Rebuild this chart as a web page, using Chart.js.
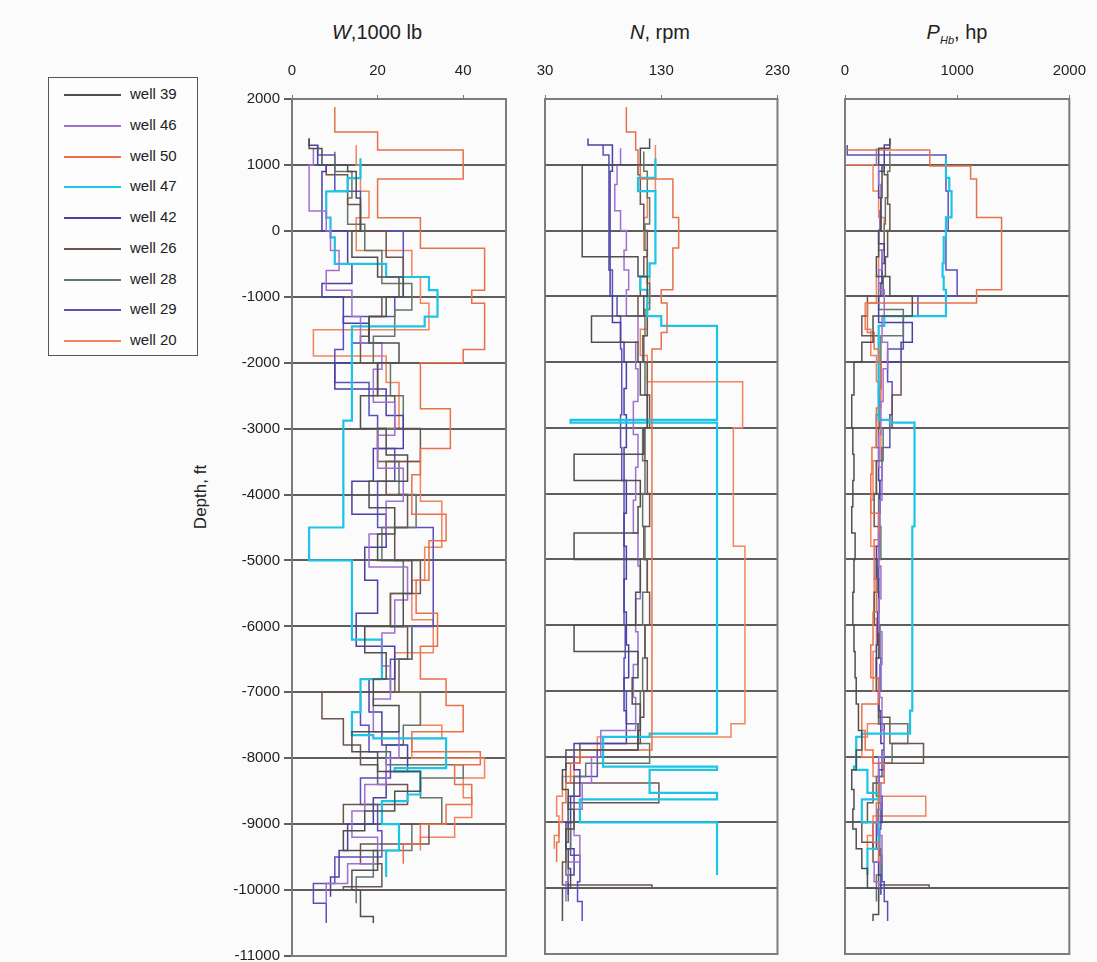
<!DOCTYPE html>
<html>
<head>
<meta charset="utf-8">
<script src="https://cdn.jsdelivr.net/npm/chart.js@4.4.1/dist/chart.umd.min.js"></script>
<style>
  body { margin: 0; background: #fbfbfb; font-family: "Liberation Sans", Arial, sans-serif; color: #222; }
  #wrap { position: relative; width: 1097px; height: 962px; overflow: hidden; }
  canvas { position: absolute; }
  .ttl { position: absolute; top: 21px; font-size: 20px; transform: translateX(-50%); white-space: nowrap; }
  .ttl sub { font-size: 11px; }
  #legend { position: absolute; left: 48px; top: 77px; width: 148px; height: 277px; border: 1px solid #555; background: #fdfdfd; }
  .row { position: absolute; left: 0; width: 148px; height: 20px; font-size: 15px; }
  .row .ln { position: absolute; left: 15px; top: 10px; width: 57px; height: 0; }
  .row .tx { position: absolute; left: 81px; top: 1px; }
  #ylab { position: absolute; left: 201px; top: 497px; transform: translate(-50%, -50%) rotate(-90deg); font-size: 17px; white-space: nowrap; }
</style>
</head>
<body>
<div id="wrap">
  <div class="ttl" style="left:377px"><i>W</i>,1000 lb</div>
  <div class="ttl" style="left:660px"><i>N</i>, rpm</div>
  <div class="ttl" style="left:957px"><i>P</i><sub><i>Hb</i></sub>, hp</div>
  <div id="legend"></div>
  <div id="ylab">Depth, ft</div>
  <canvas id="c1" width="330" height="909" style="left:180px;top:60px"></canvas>
  <canvas id="c2" width="300" height="902" style="left:505px;top:60px"></canvas>
  <canvas id="c3" width="296" height="902" style="left:805px;top:60px"></canvas>
</div>
<script>
// Each well: interval boundaries (ft, top -> bottom) and one value per interval.
const d39 = [1400, 1250, 1000, 900, 500, 0, -400, -700, -1000, -1300, -1700, -2000, -2500, -3000, -3400, -3800, -4200, -4600, -5000, -5500, -6000, -6400, -6800, -7200, -7600, -7900, -8200, -8500, -8800, -9100, -9400, -9700, -10000, -10400, -10500];
const w39 = [4, 7, 13, 15, 16, 14, 20, 26, 22, 18, 25, 20, 16, 22, 27, 18, 24, 20, 28, 26, 17, 22, 19, 25, 14, 20, 30, 24, 17, 12, 20, 14, 16, 19];
const n39 = [120, 112, 62, 62, 62, 62, 110, 118, 115, 70, 110, 112, 118, 115, 55, 112, 110, 55, 112, 108, 55, 110, 105, 112, 110, 48, 45, 50, 55, 48, 50, 52, 45, 45];
const p39 = [400, 300, 350, 330, 320, 300, 280, 400, 600, 250, 150, 80, 60, 70, 80, 70, 60, 90, 80, 70, 80, 90, 100, 120, 150, 100, 60, 80, 70, 100, 150, 200, 300, 250];

const d46 = [1250, 1000, 700, 300, 0, -300, -600, -900, -1300, -1700, -2100, -2600, -3100, -3600, -4100, -4600, -5100, -5600, -6100, -6600, -7100, -7600, -8000, -8400, -8800, -9200, -9600, -9900, -10200];
const w46 = [5, 4, 4, 8, 9, 11, 8, 14, 16, 21, 19, 24, 20, 26, 22, 18, 27, 24, 21, 23, 19, 25, 22, 17, 14, 20, 13, 8];
const n46 = [95, 92, 90, 95, 100, 98, 102, 100, 110, 108, 110, 106, 110, 108, 106, 110, 112, 108, 110, 106, 108, 78, 70, 62, 55, 60, 50, 48];
const p46 = [280, 300, 320, 310, 300, 330, 300, 350, 330, 380, 340, 320, 300, 330, 310, 300, 320, 300, 330, 310, 330, 350, 300, 320, 290, 330, 260, 300];

const d50 = [1880, 1500, 1225, 980, 785, 200, -265, -900, -1100, -1550, -1800, -2000, -2700, -3300, -3700, -4300, -4700, -5300, -5800, -6300, -6800, -7200, -7600, -7900, -8100, -8400, -8700, -9000, -9300, -9600];
const w50 = [10, 20, 40, 40, 20, 30, 45, 42, 45, 45, 40, 30, 37, 30, 28, 36, 32, 29, 34, 30, 36, 40, 28, 44, 38, 42, 36, 30, 26];
const n50 = [100, 108, 110, 112, 140, 145, 140, 130, 135, 130, 122, 122, 122, 122, 122, 122, 122, 122, 122, 122, 122, 122, 122, 60, 52, 48, 45, 42, 40];
const p50 = [0, 0, 756, 1120, 1173, 1396, 1396, 1173, 200, 260, 300, 320, 280, 240, 230, 300, 260, 280, 250, 230, 300, 150, 180, 250, 350, 300, 280, 250, 300];

const d47 = [1100, 800, 600, 200, -100, -500, -700, -900, -1300, -1450, -2880, -2920, -4500, -5000, -6200, -6800, -7300, -7650, -7700, -8150, -8200, -8550, -8650, -9000, -9400, -9800];
const w47 = [16, 13, 8, 9, 10, 22, 32, 34, 31, 14, 12, 12, 4, 14, 21, 16, 14, 19, 36, 24, 30, 27, 21, 25, 22];
const n47 = [125, 110, 125, 125, 125, 120, 112, 118, 130, 178, 52, 178, 178, 178, 178, 178, 178, 120, 80, 178, 120, 178, 60, 178, 178];
const p47 = [900, 930, 950, 900, 880, 870, 880, 900, 350, 300, 400, 620, 600, 600, 600, 600, 580, 150, 100, 80, 200, 300, 150, 300, 200];

const d42 = [1400, 1300, 1000, 900, 500, 0, -200, -500, -800, -1000, -1400, -1700, -2000, -2400, -2800, -3300, -3800, -4300, -4800, -5300, -5800, -6300, -6800, -7300, -7800, -8200, -8600, -9000, -9400, -9800, -10100];
const w42 = [4, 6, 8, 7, 7, 13, 13, 14, 7, 12, 18, 14, 10, 22, 26, 19, 14, 22, 17, 20, 15, 24, 18, 21, 27, 22, 19, 13, 11, 9];
const n42 = [67, 88, 88, 86, 86, 86, 86, 86, 86, 88, 95, 98, 100, 98, 100, 98, 100, 98, 100, 98, 100, 102, 98, 100, 55, 60, 52, 48, 55, 50];
const p42 = [400, 350, 330, 300, 320, 300, 350, 330, 320, 300, 600, 500, 320, 300, 280, 300, 310, 300, 280, 300, 290, 280, 300, 320, 350, 300, 330, 280, 300, 320];

const d26 = [1000, 850, 400, 0, -400, -700, -1000, -1300, -1600, -2000, -2500, -3000, -3500, -4000, -4500, -5000, -5500, -6000, -6500, -7000, -7400, -7800, -8100, -8400, -8700, -9000, -9300, -9600, -9950, -10000];
const w26 = [8, 13, 16, 22, 26, 25, 21, 18, 16, 20, 24, 30, 22, 27, 24, 30, 23, 27, 25, 7, 12, 16, 20, 27, 12, 32, 16, 21, 12];
const n26 = [110, 112, 115, 118, 115, 112, 110, 118, 115, 118, 120, 116, 118, 120, 115, 118, 120, 116, 118, 115, 112, 60, 48, 128, 55, 50, 48, 45, 122];
const p26 = [350, 380, 400, 380, 360, 340, 200, 150, 300, 500, 420, 300, 280, 260, 300, 280, 260, 300, 280, 300, 400, 700, 300, 250, 200, 150, 250, 300, 750];

const d28 = [1200, 900, 500, 100, -300, -800, -1200, -1600, -2000, -2500, -3000, -3500, -4000, -4500, -5000, -5500, -6000, -6500, -7000, -7500, -7800, -8100, -8300, -8600, -9000, -9400, -9800, -10200];
const w28 = [10, 14, 13, 17, 21, 28, 24, 19, 23, 26, 20, 25, 29, 21, 26, 23, 28, 24, 30, 26, 22, 40, 30, 35, 28, 19, 15];
const n28 = [115, 118, 120, 116, 118, 120, 116, 114, 116, 118, 114, 116, 114, 116, 118, 114, 116, 114, 112, 110, 120, 65, 55, 50, 52, 48, 50];
const p28 = [400, 380, 360, 350, 330, 300, 520, 320, 300, 310, 340, 280, 300, 320, 290, 300, 310, 280, 300, 560, 420, 350, 280, 300, 250, 320, 280];

const d29 = [1300, 1150, 600, 0, -600, -1000, -1300, -1800, -2300, -2800, -3300, -3800, -4500, -6000, -6500, -7000, -7500, -7900, -8300, -8700, -9100, -9500, -9900, -10200, -10500];
const w29 = [6, 10, 16, 26, 26, 24, 12, 10, 18, 20, 24, 20, 33, 28, 23, 16, 18, 23, 16, 20, 21, 10, 5, 8];
const n29 = [80, 85, 85, 85, 88, 92, 95, 96, 96, 95, 96, 98, 98, 99, 98, 100, 110, 75, 55, 50, 52, 60, 58, 62];
const p29 = [20, 900, 920, 900, 1000, 650, 520, 380, 420, 400, 330, 310, 300, 310, 320, 300, 350, 330, 300, 320, 310, 330, 350, 380];

const d20 = [1300, 1000, 600, 200, -300, -700, -1100, -1500, -1900, -2300, -3000, -3500, -4100, -4800, -5300, -5900, -6400, -7000, -7500, -7700, -8000, -8300, -8600, -8900, -9200, -9400];
const w20 = [15, 16, 18, 15, 28, 30, 32, 5, 22, 25, 20, 30, 35, 31, 28, 33, 24, 30, 35, 28, 45, 40, 42, 38, 30];
const n20 = [125, 125, 118, 115, 118, 120, 118, 112, 118, 200, 192, 192, 192, 202, 202, 202, 202, 202, 190, 75, 55, 45, 40, 42, 38];
const p20 = [0, 250, 300, 350, 300, 280, 180, 230, 280, 300, 320, 250, 230, 300, 260, 280, 250, 300, 200, 150, 250, 300, 720, 250, 200];

const wells = [
  { name: "well 39", color: "#4f4f4f", width: 1.5, depth: d39, w: w39, n: n39, p: p39 },
  { name: "well 46", color: "#a070d0", width: 1.5, depth: d46, w: w46, n: n46, p: p46 },
  { name: "well 50", color: "#e8714a", width: 1.5, depth: d50, w: w50, n: n50, p: p50 },
  { name: "well 47", color: "#1cc4e6", width: 2.2, depth: d47, w: w47, n: n47, p: p47 },
  { name: "well 42", color: "#4a40a2", width: 1.5, depth: d42, w: w42, n: n42, p: p42 },
  { name: "well 26", color: "#6c544f", width: 1.5, depth: d26, w: w26, n: n26, p: p26 },
  { name: "well 28", color: "#62766a", width: 1.5, depth: d28, w: w28, n: n28, p: p28 },
  { name: "well 29", color: "#5850bc", width: 1.5, depth: d29, w: w29, n: n29, p: p29 },
  { name: "well 20", color: "#f2845e", width: 1.5, depth: d20, w: w20, n: n20, p: p20 },
];

const FONT = { family: "'Liberation Sans', Arial, sans-serif", size: 15 };
const GRID = "#5e5e5e", FRAME = "#7c7c7c";

// step profile: value held constant over each depth interval
function steps(depth, vals) {
  const pts = [];
  vals.forEach((v, i) => { pts.push({ x: v, y: depth[i] }, { x: v, y: depth[i + 1] }); });
  return pts;
}

const framePlugin = {
  id: "frame",
  afterDraw(chart) {
    const a = chart.chartArea, ctx = chart.ctx;
    ctx.save();
    ctx.strokeStyle = FRAME; ctx.lineWidth = 2;
    ctx.strokeRect(a.left, a.top, a.right - a.left, a.bottom - a.top);
    ctx.restore();
  },
};

function panel(id, key, xMin, xMax, xTicks, yWidth, padRight, showY) {
  new Chart(document.getElementById(id), {
    type: "scatter",
    data: {
      datasets: wells.map(wl => ({
        label: wl.name, data: steps(wl.depth, wl[key]), showLine: true,
        borderColor: wl.color, borderWidth: wl.width, pointRadius: 0, tension: 0,
      })),
    },
    options: {
      animation: false, responsive: false, events: [],
      layout: { padding: { left: 0, right: padRight, top: 0, bottom: 8 } },
      plugins: { legend: { display: false }, tooltip: { enabled: false } },
      scales: {
        x: {
          position: "top", min: xMin, max: xMax,
          afterBuildTicks: ax => { ax.ticks = xTicks.map(v => ({ value: v })); },
          afterFit: s => { s.height = 39; },
          ticks: { font: FONT, color: "#222", padding: 15, maxRotation: 0, callback: v => String(v) },
          grid: { drawOnChartArea: false, tickLength: 4, color: FRAME },
          border: { color: FRAME, width: 2 },
        },
        y: {
          min: -11000, max: 2000,
          afterFit: s => { s.width = yWidth; },
          ticks: { display: showY, stepSize: 1000, font: FONT, color: "#222", padding: 4, callback: v => String(v) },
          grid: { color: GRID, lineWidth: 2, tickLength: showY ? 8 : 0 },
          border: { color: FRAME, width: 2 },
        },
      },
    },
    plugins: [framePlugin],
  });
}

panel("c1", "w", 0, 50, [0, 20, 40], 112, 4, true);
panel("c2", "n", 30, 230, [30, 130, 230], 40, 4, false);
panel("c3", "p", 0, 2000, [0, 1000, 2000], 40, 4, false);

// legend box
const leg = document.getElementById("legend");
wells.forEach((wl, i) => {
  const row = document.createElement("div");
  row.className = "row";
  row.style.top = (6 + i * 30.75) + "px";
  row.innerHTML = `<span class="ln" style="border-top:2px solid ${wl.color}"></span><span class="tx">${wl.name}</span>`;
  leg.appendChild(row);
});
</script>
</body>
</html>
